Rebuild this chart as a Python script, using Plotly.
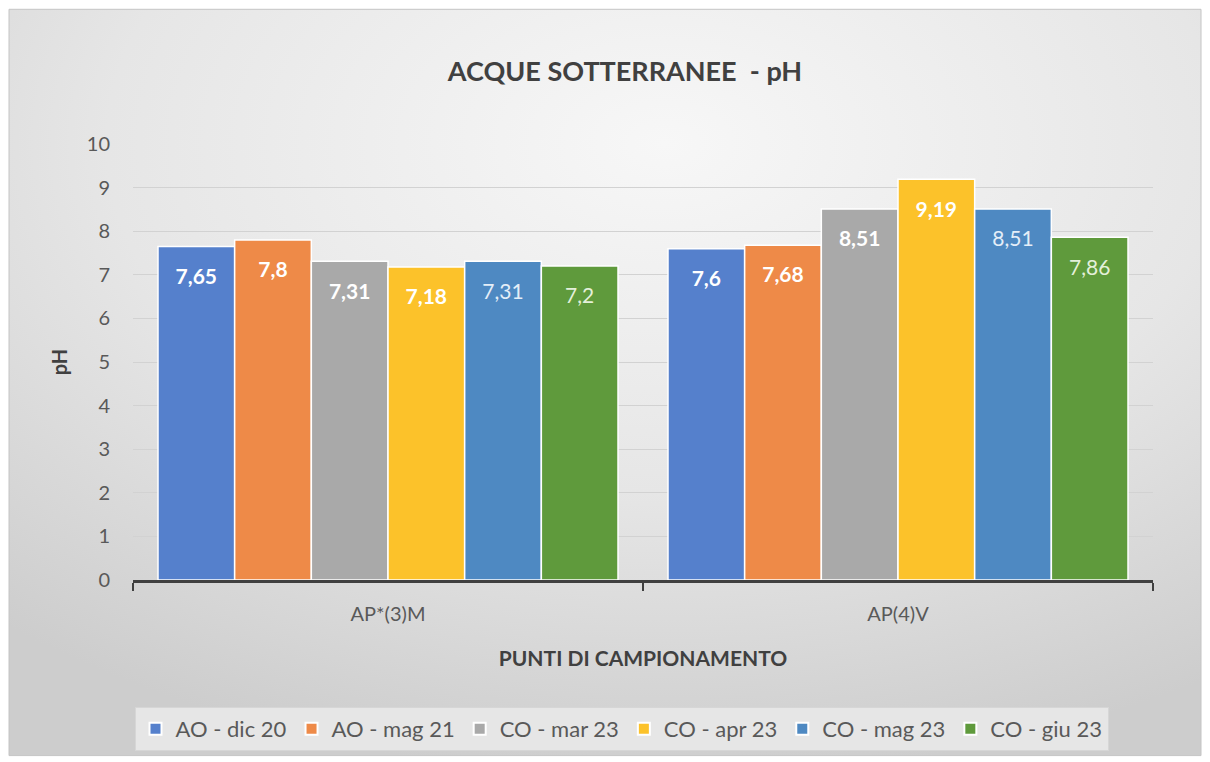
import base64
import plotly.graph_objects as go

categories = ["AP*(3)M", "AP(4)V"]
series_names = ["AO - dic 20", "AO - mag 21", "CO - mar 23", "CO - apr 23", "CO - mag 23", "CO - giu 23"]
values = [
    [7.65, 7.60],
    [7.80, 7.68],
    [7.31, 8.51],
    [7.18, 9.19],
    [7.31, 8.51],
    [7.20, 7.86],
]
colors = ["#5580cc", "#ee8a48", "#a9a9a9", "#fcc22a", "#4e89c2", "#5f9a3c"]
label_colors = ["#ffffff", "#ffffff", "#ffffff", "#ffffff", "#e4eef8", "#e4f0da"]
label_bold = [True, True, True, True, False, False]

FONT = "Lato, Open Sans, sans-serif"

fig = go.Figure()
for name, vals, col, lc, b in zip(series_names, values, colors, label_colors, label_bold):
    txt = [("%g" % v).replace(".", ",") for v in vals]
    if b:
        txt = ["<b>" + t + "</b>" for t in txt]
    txt = ["<span style='font-size:7px'>&nbsp;</span><br>" + t for t in txt]
    fig.add_trace(go.Bar(
        name=name, x=categories, y=vals, text=txt,
        textposition="inside", insidetextanchor="end",
        textfont=dict(color=lc, size=21, family=FONT),
        marker=dict(color=col, line=dict(color="white", width=1.5)),
    ))

# page has an 8px body margin; figure placed at (8, 8)
OFF = 8
W, H = 1210 - OFF, 762 - OFF
L, R, T, B = 133 - OFF, 1210 - 1153, 144 - OFF, 762 - 581
pw, ph = W - L - R, H - T - B

def px(x):
    return (x - OFF - L) / pw

def py(y):
    return (H - B - (y - OFF)) / ph

# radial gradient background (chart area)
svg = (
    "<svg xmlns='http://www.w3.org/2000/svg' width='1192' height='748' preserveAspectRatio='none'>"
    "<defs><radialGradient id='g' cx='0.55' cy='0.18' r='0.85'>"
    "<stop offset='0' stop-color='#f7f7f7'/>"
    "<stop offset='0.55' stop-color='#e6e6e6'/>"
    "<stop offset='1' stop-color='#cdcdcd'/>"
    "</radialGradient></defs>"
    "<rect width='1192' height='748' fill='url(#g)'/></svg>"
)
bg_uri = "data:image/svg+xml;base64," + base64.b64encode(svg.encode()).decode()

fig.add_layout_image(dict(
    source=bg_uri, xref="paper", yref="paper",
    x=px(9), y=py(9), sizex=px(1201) - px(9), sizey=py(9) - py(757),
    xanchor="left", yanchor="top", sizing="stretch", layer="below",
))

fig.add_shape(type="rect", xref="paper", yref="paper",
              x0=px(9), x1=px(1201), y0=py(757), y1=py(9),
              fillcolor="rgba(0,0,0,0)", line=dict(color="#c4c4c4", width=1), layer="below")

fig.update_layout(
    width=W, height=H,
    margin=dict(l=L, r=R, t=T, b=B),
    paper_bgcolor="white",
    plot_bgcolor="rgba(0,0,0,0)",
    barmode="group", bargap=0.098, bargroupgap=0,
    title=dict(text="<b>ACQUE SOTTERRANEE&nbsp; - pH</b>", x=(625 - OFF) / W, xanchor="center",
               y=1 - (72 - OFF) / H, yanchor="middle",
               font=dict(size=27, color="#404040", family=FONT)),
    font=dict(family=FONT, color="#595959", size=20),
    showlegend=True,
    legend=dict(orientation="h", x=px(621.5), xanchor="center", y=py(729), yanchor="middle",
                bgcolor="#e6e6e6", bordercolor="#d6d6d6", borderwidth=1,
                font=dict(size=22, color="#595959", family=FONT),
                itemwidth=30, traceorder="normal", itemsizing="constant"),
    xaxis=dict(
        tickson="boundaries", ticks="outside", ticklen=8, tickwidth=2, tickcolor="#404040",
        showline=True, linecolor="#404040", linewidth=3,
        tickfont=dict(size=20, color="#595959"), ticklabelstandoff=14,
        title=dict(text="<b>PUNTI DI CAMPIONAMENTO</b>", standoff=28,
                   font=dict(size=21, color="#404040")),
        showgrid=False,
    ),
    yaxis=dict(
        range=[0, 10], dtick=1, tick0=0,
        showgrid=True, gridcolor="#d2d2d2", gridwidth=1,
        showline=False, zeroline=False, ticks="", ticklabelstandoff=22,
        tickfont=dict(size=20, color="#595959"),
        title=dict(text="<b>pH</b>", standoff=13, font=dict(size=20, color="#404040")),
    ),
)

fig.write_html("out.html")
